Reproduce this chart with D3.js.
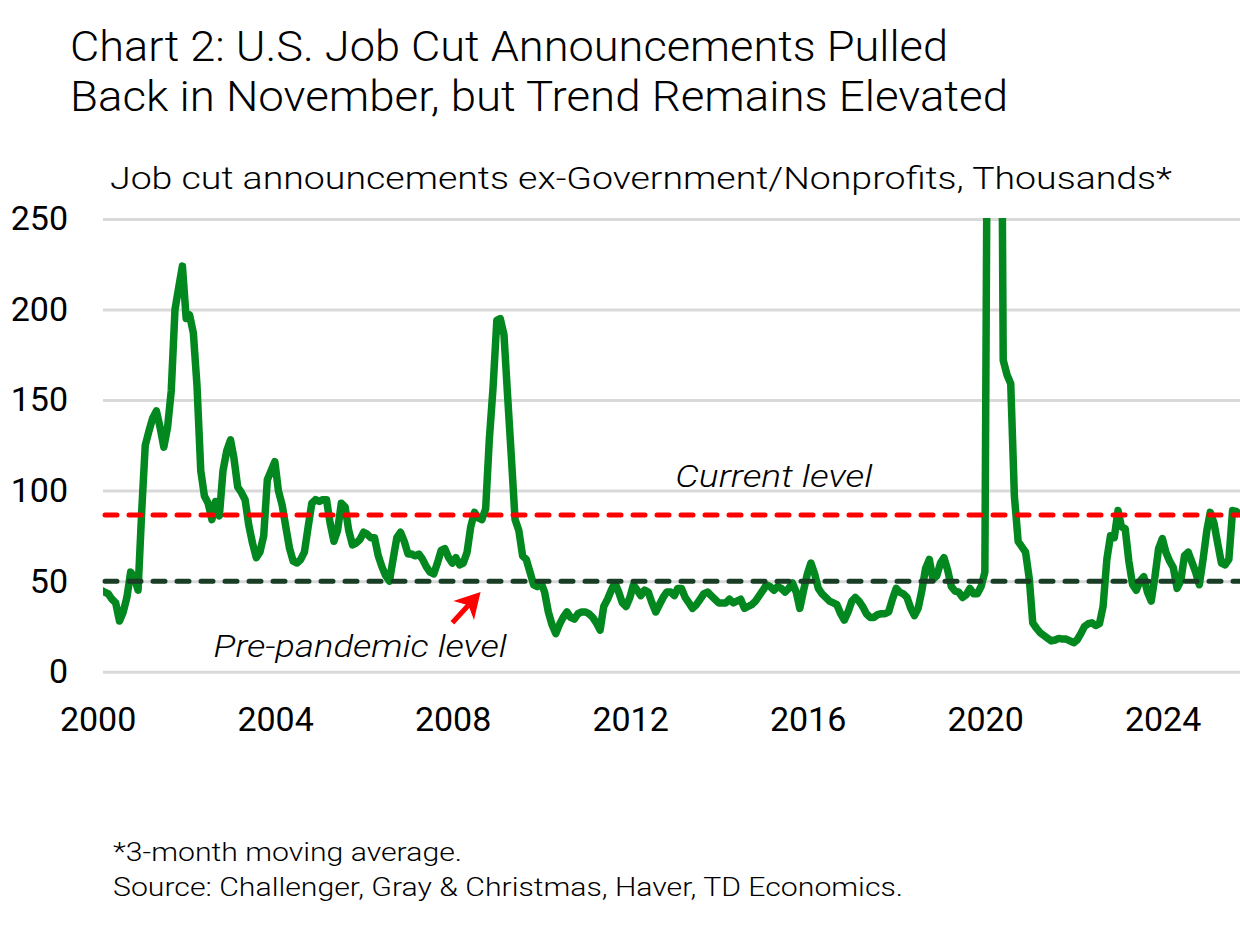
<!DOCTYPE html>
<html>
<head>
<meta charset="utf-8">
<script src="https://cdn.jsdelivr.net/npm/d3@7"></script>
<style>
  body { margin: 0; background: #fff; }
  svg { display: block; font-family: Roboto, "Noto Sans", sans-serif; font-weight: 300; }
</style>
</head>
<body>
<svg id="chart" width="1240" height="925"></svg>
<script>
(function () {

    // monthly data, 3-month moving average, thousands (Jan 2000 .. Nov 2025)
    var firstMonth = new Date(2000, 0, 1);
    var jobCuts = [
        47,
        46, 45, 44, 43, 40, 38, 28, 33, 41, 55, 52, 45,            // 2000 (shifted)
        90, 125, 133, 140, 144, 135, 124, 135, 155, 200, 212, 224,  // 2001
        195, 197, 187, 158, 111, 97, 93, 84, 94, 86, 111, 122,      // 2002
        128, 118, 102, 99, 95, 81, 71, 63, 66, 75, 106, 111,        // 2003
        116, 100, 92, 80, 68, 61, 60, 62, 66, 80, 93, 95,           // 2004
        94, 95, 95, 82, 72, 78, 93, 91, 78, 70, 71, 73,             // 2005
        77, 76, 74, 74, 64, 58, 53, 50, 62, 74, 77, 72,             // 2006
        65, 65, 64, 65, 62, 58, 55, 54, 60, 67, 68, 63,             // 2007
        60, 63, 59, 60, 66, 80, 88, 85, 84, 90, 128, 157,           // 2008
        194, 195, 186, 152, 118, 84, 78, 64, 62, 55, 48, 47,        // 2009
        49, 44, 33, 26, 21, 26, 30, 33, 30, 29, 32, 33,             // 2010
        33, 32, 30, 27, 23, 36, 40, 45, 49, 44, 38, 36,             // 2011
        41, 48, 45, 42, 45, 44, 38, 33, 37, 41, 44, 44,             // 2012
        42, 46, 46, 41, 38, 35, 37, 40, 43, 44, 42, 40,             // 2013
        38, 38, 38, 40, 38, 39, 40, 35, 36, 37, 39, 42,             // 2014
        45, 48, 47, 45, 47, 46, 44, 46, 49, 44, 35, 45,             // 2015
        54, 60, 54, 46, 43, 41, 39, 38, 37, 32, 28.5, 33,           // 2016
        39, 41, 39, 36, 32, 30, 30, 31.5, 32, 32, 33, 40,           // 2017
        46, 44, 43, 41, 35, 31, 35, 45, 57, 62, 51, 53,             // 2018
        60, 63, 56, 47, 44.5, 44, 41, 42.5, 46, 43, 43, 47,         // 2019
        55, 430, 480, 450, 520, 172, 164, 159, 97, 72, 69, 66,      // 2020
        51, 27, 24, 21.5, 20, 18.5, 17, 17.5, 18.4, 18, 18, 17,     // 2021
        16, 17.5, 21, 25, 26.5, 27, 25.5, 26.5, 36, 62, 75, 74,     // 2022
        89, 80, 79, 61, 48, 45, 50, 52.5, 44, 39, 52, 68,           // 2023
        73.5, 66, 61, 57.5, 46, 50, 64, 66, 60.5, 55, 48, 62,       // 2024
        78, 88, 82, 71, 60, 59, 62, 89, 88.5, 86.5                  // 2025
    ];

    var yTicks = [0, 50, 100, 150, 200, 250];
    var xTickYears = [2000, 2004, 2008, 2012, 2016, 2020, 2024];
    var preLevel = 50;
    var currentLevel = jobCuts[jobCuts.length - 1];

    var titleLines = [
        "Chart 2: U.S. Job Cut Announcements Pulled",
        "Back in November, but Trend Remains Elevated"
    ];
    var subtitle = "Job cut announcements ex-Government/Nonprofits, Thousands*";
    var notes = [
        "*3-month moving average.",
        "Source: Challenger, Gray & Christmas, Haver, TD Economics."
    ];

    var data = jobCuts.map(function (v, i) {
        return {date: d3.timeMonth.offset(firstMonth, i), value: v};
    });

    var svg = d3.select("#chart");
    var left = 103, right = 1240, top = 219, bottom = 671.7;

    var x = d3.scaleTime()
        .domain([firstMonth, data[data.length - 1].date])
        .range([93.6, 1240]);
    var y = d3.scaleLinear().domain([0, 250]).range([bottom, top]);

    // squeeze text to the width it has in the original
    function squeeze(sel, width) {
        sel.attr("textLength", width).attr("lengthAdjust", "spacingAndGlyphs");
    }

    // title
    var t1 = svg.append("text").attr("x", 70).attr("y", 61).attr("font-size", 43)
        .text(titleLines[0]);
    var t2 = svg.append("text").attr("x", 70).attr("y", 111).attr("font-size", 43)
        .text(titleLines[1]);
    squeeze(t1, 878);
    squeeze(t2, 938);

    var st = svg.append("text").attr("x", 110).attr("y", 189).attr("font-size", 32)
        .text(subtitle);
    squeeze(st, 1062);

    // y grid + labels
    var yAxis = svg.append("g")
        .attr("transform", "translate(" + left + ",0)")
        .call(d3.axisLeft(y).tickValues(yTicks).tickSize(-(right - left)).tickPadding(35));
    yAxis.select(".domain").remove();
    yAxis.selectAll(".tick line").attr("stroke", "#d9d9d9").attr("stroke-width", 3);
    yAxis.selectAll(".tick text").attr("font-size", 34).attr("fill", "#000")
        .attr("font-family", "Roboto").attr("font-weight", 400);

    // x labels
    var xAxis = svg.append("g")
        .attr("transform", "translate(0," + bottom + ")")
        .call(d3.axisBottom(x)
            .tickValues(xTickYears.map(function (yr) { return new Date(yr, 0, 1); }))
            .tickFormat(d3.timeFormat("%Y"))
            .tickSize(0).tickPadding(35));
    xAxis.select(".domain").remove();
    xAxis.selectAll(".tick text").attr("font-size", 34).attr("fill", "#000")
        .attr("font-family", "Roboto").attr("font-weight", 400).attr("dx", 4);

    // clip
    svg.append("clipPath").attr("id", "plot")
        .append("rect").attr("x", left).attr("y", top - 1)
        .attr("width", right - left).attr("height", bottom - top + 20);

    var line = d3.line()
        .x(function (d) { return x(d.date); })
        .y(function (d) { return y(d.value); });

    svg.append("path").datum(data)
        .attr("clip-path", "url(#plot)")
        .attr("d", line)
        .attr("fill", "none")
        .attr("stroke", "#03871f")
        .attr("stroke-width", 7.5)
        .attr("stroke-linejoin", "round");

    // reference levels
    var levels = [
        {value: preLevel, color: "#1a3d25"},
        {value: currentLevel, color: "#ff0000"}
    ];
    svg.selectAll("line.level").data(levels).enter().append("line")
        .attr("class", "level")
        .attr("x1", left + 2).attr("x2", right)
        .attr("y1", function (d) { return y(d.value); })
        .attr("y2", function (d) { return y(d.value); })
        .attr("stroke", function (d) { return d.color; })
        .attr("stroke-width", 5)
        .attr("stroke-linecap", "round")
        .attr("stroke-dasharray", "12,12");

    // annotations
    var cur = svg.append("text")
        .attr("x", x(new Date(2015, 4, 1))).attr("y", y(102))
        .attr("text-anchor", "middle").attr("font-style", "italic").attr("font-size", 32)
        .text("Current level");
    squeeze(cur, 197);
    var pre = svg.append("text")
        .attr("x", x(new Date(2002, 8, 15))).attr("y", y(8))
        .attr("font-style", "italic").attr("font-size", 32)
        .text("Pre-pandemic level");
    squeeze(pre, 293);

    // arrow
    var ax0 = x(new Date(2008, 1, 1)), ay0 = y(27);
    var ax1 = x(new Date(2008, 8, 20)), ay1 = y(44);
    var dx = ax1 - ax0, dy = ay1 - ay0, len = Math.sqrt(dx * dx + dy * dy);
    var ux = dx / len, uy = dy / len, px = -uy, py = ux;
    var hl = 25, hw = 14, notch = 18;
    svg.append("line")
        .attr("x1", ax0).attr("y1", ay0)
        .attr("x2", ax1 - ux * notch).attr("y2", ay1 - uy * notch)
        .attr("stroke", "#ff0000").attr("stroke-width", 5);
    svg.append("path")
        .attr("d", "M" + ax1 + "," + ay1 +
            "L" + (ax1 - ux * hl + px * hw) + "," + (ay1 - uy * hl + py * hw) +
            "L" + (ax1 - ux * notch) + "," + (ay1 - uy * notch) +
            "L" + (ax1 - ux * hl - px * hw) + "," + (ay1 - uy * hl - py * hw) + "Z")
        .attr("fill", "#ff0000");

    // footnotes
    var n1 = svg.append("text").attr("x", 113).attr("y", 861).attr("font-size", 26).text(notes[0]);
    squeeze(n1, 349);
    var n2 = svg.append("text").attr("x", 113).attr("y", 896).attr("font-size", 26).text(notes[1]);
    squeeze(n2, 790);
})();
</script>
</body>
</html>
